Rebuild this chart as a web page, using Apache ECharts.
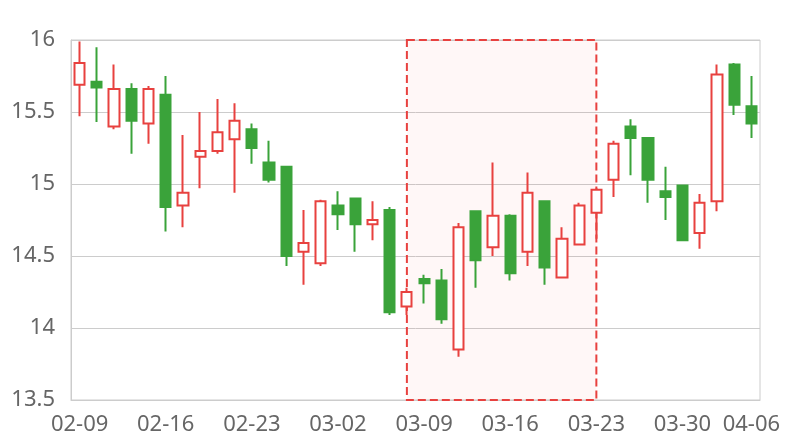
<!DOCTYPE html>
<html>
<head>
<meta charset="utf-8">
<script src="https://cdn.jsdelivr.net/npm/echarts@6/dist/echarts.min.js"></script>
<style>html,body{margin:0;padding:0;background:#fff}#c{width:800px;height:440px}</style>
</head>
<body>
<div id="c"></div>
<script>
var dates = ['02-09','02-10','02-11','02-12','02-13',
  '02-16','02-17','02-18','02-19','02-20',
  '02-23','02-24','02-25','02-26','02-27',
  '03-02','03-03','03-04','03-05','03-06',
  '03-09','03-10','03-11','03-12','03-13',
  '03-16','03-17','03-18','03-19','03-20',
  '03-23','03-24','03-25','03-26','03-27',
  '03-30','03-31','04-01','04-02','04-06'];
var openV  = [15.69,15.71,15.40,15.66,15.42,15.62,14.85,15.19,15.23,15.31,15.38,15.15,15.12,14.53,14.45,14.85,14.90,14.72,14.82,14.15,14.34,14.33,13.85,14.81,14.56,14.78,14.53,14.88,14.35,14.58,14.80,15.03,15.40,15.32,14.95,14.99,14.66,14.88,15.83,15.54];
var closeV = [15.84,15.67,15.66,15.44,15.66,14.84,14.94,15.23,15.36,15.44,15.25,15.03,14.50,14.59,14.88,14.79,14.72,14.75,14.11,14.25,14.31,14.06,14.70,14.47,14.78,14.38,14.94,14.42,14.62,14.85,14.96,15.28,15.32,15.03,14.91,14.61,14.87,15.76,15.55,15.42];
var lowV   = [15.47,15.43,15.38,15.21,15.28,14.67,14.70,14.97,15.21,14.94,15.14,15.01,14.43,14.30,14.43,14.68,14.53,14.61,14.09,14.09,14.17,14.03,13.80,14.28,14.50,14.33,14.43,14.30,14.35,14.58,14.62,14.91,15.06,14.87,14.75,14.61,14.55,14.81,15.48,15.32];
var highV  = [15.99,15.95,15.83,15.70,15.68,15.75,15.34,15.50,15.59,15.56,15.42,15.30,15.12,14.82,14.89,14.95,14.90,14.88,14.84,14.28,14.37,14.41,14.73,14.81,15.15,14.79,15.08,14.88,14.70,14.87,14.97,15.30,15.45,15.32,15.12,14.99,14.93,15.83,15.84,15.75];
var tickLabels = ['02-09','02-16','02-23','03-02','03-09','03-16','03-23','03-30','04-06'];
var areaStart = '03-06';
var areaEnd = '03-23';

var candleData = dates.map(function(d, i){ return [openV[i], closeV[i], lowV[i], highV[i]]; });

var RED = '#e8413f', GREEN = '#3aa33a';
var chart = echarts.init(document.getElementById('c'), null, {renderer:'canvas'});
chart.setOption({
  animation: false,
  backgroundColor: '#fff',
  textStyle: {fontFamily: 'Noto Sans'},
  grid: {left: 71, right: 40, top: 40, bottom: 40, show: true, borderColor: '#ccc', borderWidth: 1},
  xAxis: {
    type: 'category',
    data: dates,
    boundaryGap: true,
    axisLine: {lineStyle: {color: '#ccc'}},
    axisTick: {show: false},
    splitLine: {show: false},
    axisLabel: {
      color: '#666', fontSize: 22, margin: 14,
      interval: function(i, v){ return tickLabels.indexOf(v) >= 0; }
    }
  },
  yAxis: {
    type: 'value',
    min: 13.5, max: 16, interval: 0.5,
    axisLine: {show: true, lineStyle: {color: '#ccc'}},
    axisTick: {show: false},
    splitLine: {lineStyle: {color: '#ccc'}},
    axisLabel: {color: '#666', fontSize: 22, margin: 16}
  },
  series: [{
    type: 'candlestick',
    data: candleData,
    barWidth: '62%',
    itemStyle: {
      color: '#fff', color0: GREEN,
      borderColor: RED, borderColor0: GREEN,
      borderWidth: 2
    },
    markArea: {
      silent: true,
      itemStyle: {color: 'rgba(255,0,0,0.03)', borderColor: RED, borderWidth: 2, borderType: 'dashed'},
      data: [[{xAxis: areaStart, yAxis: 16}, {xAxis: areaEnd, yAxis: 13.5}]]
    }
  }]
});
</script>
</body>
</html>
